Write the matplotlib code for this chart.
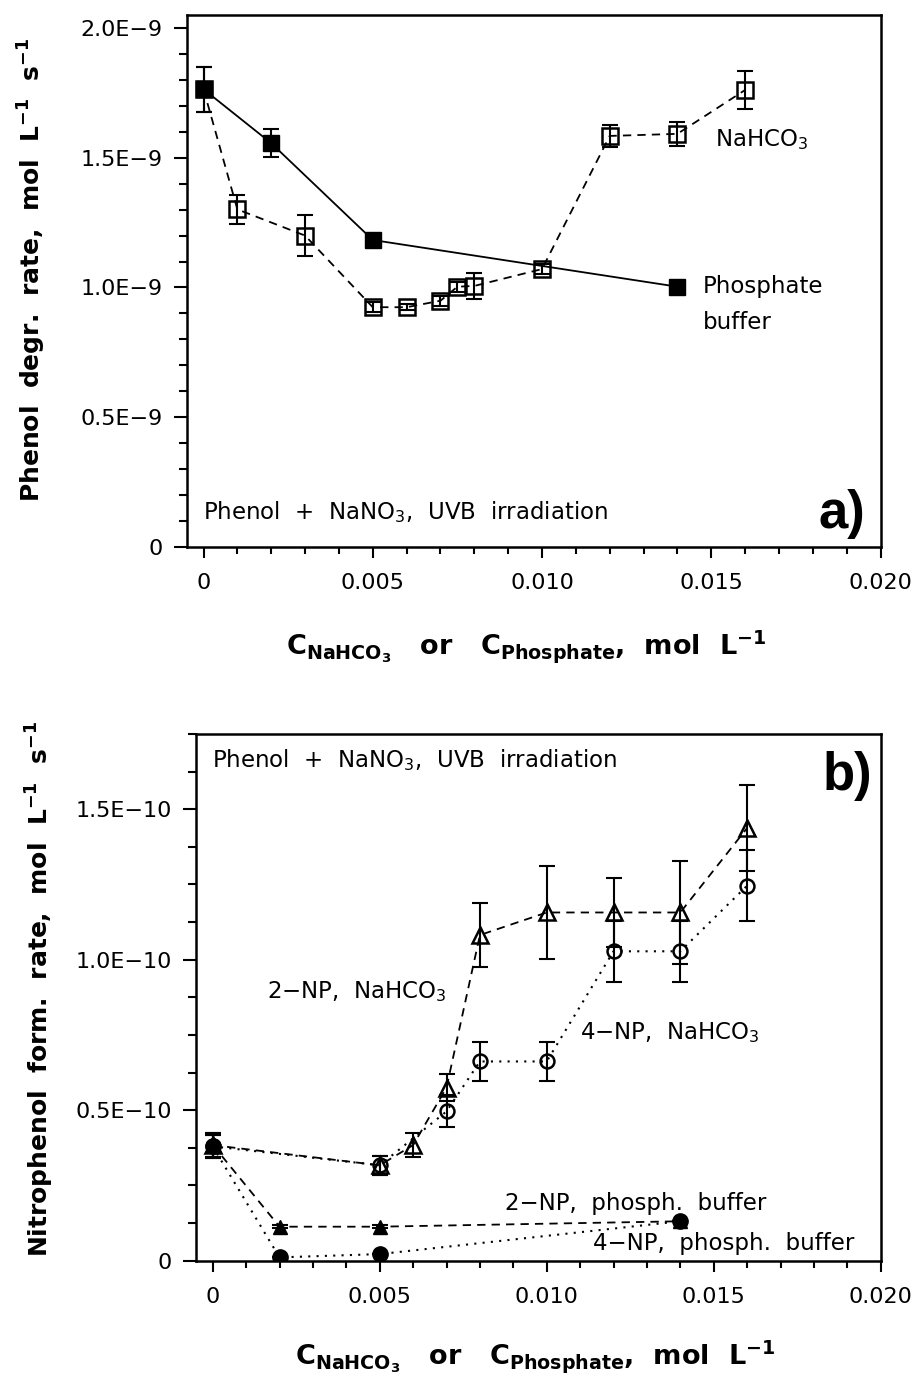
import matplotlib
matplotlib.use('Agg')
import matplotlib.pyplot as plt
from matplotlib.ticker import MultipleLocator

plt.rcParams.update({
    'font.family': ['DejaVu Sans'],
    'mathtext.fontset': 'custom',
    'mathtext.rm': 'DejaVu Sans',
    'mathtext.bf': 'DejaVu Sans:bold',
    'mathtext.it': 'DejaVu Sans:italic',
    'mathtext.default': 'rm',
})

# ---------------- Panel a data ----------------
phos_x = [0, 0.002, 0.005, 0.014]
phos_y = [1.764e-9, 1.556e-9, 1.183e-9, 1.003e-9]
phos_err = [0.087e-9, 0.053e-9, 0.0, 0.0]

bic_x = [0, 0.001, 0.003, 0.005, 0.006, 0.007, 0.0075, 0.008, 0.010, 0.012, 0.014, 0.016]
bic_y = [1.764e-9, 1.301e-9, 1.200e-9, 0.924e-9, 0.924e-9, 0.949e-9, 1.003e-9,
         1.006e-9, 1.071e-9, 1.584e-9, 1.592e-9, 1.761e-9]
bic_err = [0.087e-9, 0.055e-9, 0.080e-9, 0.02e-9, 0.012e-9, 0.02e-9, 0.02e-9,
           0.049e-9, 0.02e-9, 0.043e-9, 0.047e-9, 0.072e-9]

# ---------------- Panel b data ----------------
np2_bic_x = [0, 0.005, 0.006, 0.007, 0.008, 0.010, 0.012, 0.014, 0.016]
np2_bic_y = [0.384e-10, 0.317e-10, 0.384e-10, 0.575e-10, 1.082e-10, 1.157e-10,
             1.157e-10, 1.157e-10, 1.4375e-10]
np2_bic_err = [0.039e-10, 0.032e-10, 0.039e-10, 0.044e-10, 0.105e-10, 0.154e-10,
               0.114e-10, 0.17e-10, 0.144e-10]

np4_bic_x = [0, 0.005, 0.007, 0.008, 0.010, 0.012, 0.014, 0.016]
np4_bic_y = [0.38e-10, 0.317e-10, 0.496e-10, 0.662e-10, 0.662e-10, 1.028e-10,
             1.028e-10, 1.246e-10]
np4_bic_err = [0.039e-10, 0.032e-10, 0.053e-10, 0.064e-10, 0.066e-10, 0.102e-10,
               0.102e-10, 0.118e-10]

ph_x = [0, 0.002, 0.005, 0.014]
np2_ph_y = [0.385e-10, 0.113e-10, 0.113e-10, 0.131e-10]
np2_ph_err = [0.039e-10, 0.005e-10, 0.005e-10, 0.0]
np4_ph_y = [0.38e-10, 0.011e-10, 0.022e-10, 0.131e-10]
np4_ph_err = [0.039e-10, 0.0, 0.0, 0.0]

xticks = [0, 0.005, 0.010, 0.015, 0.020]
xticklabels = ['0', '0.005', '0.010', '0.015', '0.020']
a_yticks = [0, 0.5e-9, 1.0e-9, 1.5e-9, 2.0e-9]
a_yticklabels = ['0', '0.5E\u22129', '1.0E\u22129', '1.5E\u22129', '2.0E\u22129']
b_yticks = [0, 0.5e-10, 1.0e-10, 1.5e-10]
b_yticklabels = ['0', '0.5E\u221210', '1.0E\u221210', '1.5E\u221210']

W, H = 921, 1381
fig = plt.figure(figsize=(W / 100, H / 100), dpi=100)
axA = fig.add_axes([186.6 / W, 1 - 547 / H, (880.5 - 186.6) / W, (547 - 15) / H])
axB = fig.add_axes([196 / W, 1 - 1260.7 / H, (880.7 - 196) / W, (1260.7 - 734) / H])

DASH = (0, (4.6, 3.4))
DOT = (0, (1, 3))
eb_kw = dict(fmt='none', ecolor='k', elinewidth=1.5, capsize=5.5, capthick=1.5)
TXT = 16.5
TICK = 16
LBL_Y = 18
LBL_X = 19.5


def style(ax, yticks, yticklabels, ymax, yminor):
    ax.set_xlim(-0.0005, 0.020)
    ax.set_ylim(0, ymax)
    ax.set_xticks(xticks)
    ax.set_xticklabels(xticklabels)
    ax.set_yticks(yticks)
    ax.set_yticklabels(yticklabels)
    ax.xaxis.set_minor_locator(MultipleLocator(0.001))
    ax.yaxis.set_minor_locator(MultipleLocator(yminor))
    for s in ax.spines.values():
        s.set_linewidth(1.8)
    ax.tick_params(axis='both', which='both', direction='out', top=False, right=False,
                   width=1.5, labelsize=TICK)
    ax.tick_params(axis='x', which='major', length=8, pad=11)
    ax.tick_params(axis='x', which='minor', length=5)
    ax.tick_params(axis='y', which='major', length=9.5, pad=8)
    ax.tick_params(axis='y', which='minor', length=6)


# ---------------- Panel a ----------------
axA.errorbar(bic_x, bic_y, yerr=bic_err, **eb_kw)
axA.plot(bic_x, bic_y, ls=DASH, color='k', lw=1.3, marker='s', ms=11,
         mfc='none', mec='k', mew=1.8)
axA.errorbar(phos_x, phos_y, yerr=phos_err, **eb_kw)
axA.plot(phos_x, phos_y, ls='-', color='k', lw=1.3, marker='s', ms=11.5,
         mfc='k', mec='k', mew=1.0)
style(axA, a_yticks, a_yticklabels, 2.05e-9, 0.1e-9)

axA.text(0.0151, 1.57e-9, 'NaHCO$_3$', fontsize=TXT, va='center', ha='left')
axA.text(0.01475, 1.005e-9, 'Phosphate', fontsize=TXT, va='center', ha='left')
axA.text(0.01475, 0.866e-9, 'buffer', fontsize=TXT, va='center', ha='left')
axA.text(0.023, 0.066, 'Phenol  +  NaNO$_3$,  UVB  irradiation', fontsize=TXT,
         transform=axA.transAxes, va='center', ha='left')
axA.text(0.978, 0.035, 'a)', fontsize=38, fontweight='bold', transform=axA.transAxes,
         va='baseline', ha='right', family=['Liberation Sans', 'DejaVu Sans'])
axA.set_ylabel('Phenol  degr.  rate,  mol  L$^{\\mathbf{-1}}$  s$^{\\mathbf{-1}}$',
               fontsize=LBL_Y, fontweight='bold')
axA.yaxis.set_label_coords(-0.2, 0.52)
axA.set_xlabel('C$_{\\mathbf{NaHCO_3}}$   or   C$_{\\mathbf{Phosphate}}$,  mol  L$^{\\mathbf{-1}}$',
               fontsize=LBL_X, fontweight='bold')
axA.xaxis.set_label_coords(0.49, -0.152)

# ---------------- Panel b ----------------
axB.errorbar(np2_bic_x, np2_bic_y, yerr=np2_bic_err, **eb_kw)
axB.plot(np2_bic_x, np2_bic_y, ls=DASH, color='k', lw=1.3, marker='^', ms=11,
         mfc='none', mec='k', mew=1.8)
axB.errorbar(np4_bic_x, np4_bic_y, yerr=np4_bic_err, **eb_kw)
axB.plot(np4_bic_x, np4_bic_y, ls=DOT, color='k', lw=1.5, marker='o', ms=10,
         mfc='none', mec='k', mew=1.8)
axB.errorbar(ph_x, np2_ph_y, yerr=np2_ph_err, **eb_kw)
axB.plot(ph_x, np2_ph_y, ls=DASH, color='k', lw=1.3, marker='^', ms=10,
         mfc='k', mec='k', mew=1.0)
axB.errorbar(ph_x, np4_ph_y, yerr=np4_ph_err, **eb_kw)
axB.plot(ph_x, np4_ph_y, ls=DOT, color='k', lw=1.5, marker='o', ms=11,
         mfc='k', mec='k', mew=1.0)
style(axB, b_yticks, b_yticklabels, 1.75e-10, 0.125e-10)

axB.text(0.023, 0.951, 'Phenol  +  NaNO$_3$,  UVB  irradiation', fontsize=TXT,
         transform=axB.transAxes, va='center', ha='left')
axB.text(0.988, 0.894, 'b)', fontsize=38, fontweight='bold', transform=axB.transAxes,
         va='baseline', ha='right', family=['Liberation Sans', 'DejaVu Sans'])
axB.text(0.00163, 0.874e-10, '2\u2212NP,  NaHCO$_3$', fontsize=TXT, va='baseline', ha='left')
axB.text(0.0110, 0.735e-10, '4\u2212NP,  NaHCO$_3$', fontsize=TXT, va='baseline', ha='left')
axB.text(0.00875, 0.169e-10, '2\u2212NP,  phosph.  buffer', fontsize=TXT, va='baseline', ha='left')
axB.text(0.0114, 0.034e-10, '4\u2212NP,  phosph.  buffer', fontsize=TXT, va='baseline', ha='left')
axB.set_ylabel('Nitrophenol  form.  rate,  mol  L$^{\\mathbf{-1}}$  s$^{\\mathbf{-1}}$',
               fontsize=LBL_Y, fontweight='bold')
axB.yaxis.set_label_coords(-0.205, 0.515)
axB.set_xlabel('C$_{\\mathbf{NaHCO_3}}$   or   C$_{\\mathbf{Phosphate}}$,  mol  L$^{\\mathbf{-1}}$',
               fontsize=LBL_X, fontweight='bold')
axB.xaxis.set_label_coords(0.495, -0.148)

fig.savefig('out.png', dpi=100)
